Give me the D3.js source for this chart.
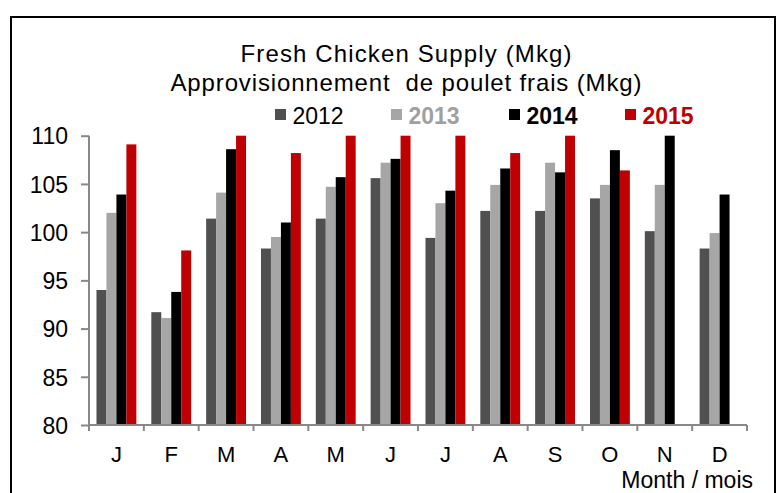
<!DOCTYPE html>
<html>
<head>
<meta charset="utf-8">
<script src="https://cdn.jsdelivr.net/npm/d3@7"></script>
<style>
  html, body { margin: 0; padding: 0; background: #fff; }
  svg { display: block; font-family: "Liberation Sans", Arial, sans-serif; }
</style>
</head>
<body>
<svg id="chart" width="778" height="493"></svg>
<script>
const months = ["J", "F", "M", "A", "M", "J", "J", "A", "S", "O", "N", "D"];
const years = ["2012", "2013", "2014", "2015"];
const v2012 = [94.0, 91.7, 101.4, 98.3, 101.4, 105.6, 99.4, 102.2, 102.2, 103.5, 100.1, 98.3];
const v2013 = [102.0, 91.1, 104.1, 99.5, 104.7, 107.2, 103.0, 104.9, 107.2, 104.9, 104.9, 99.9];
const v2014 = [103.9, 93.8, 108.6, 101.0, 105.7, 107.6, 104.3, 106.6, 106.2, 108.5, 110.0, 103.9];
const v2015 = [109.1, 98.1, 110.0, 108.2, 110.0, 110.0, 110.0, 108.2, 110.0, 106.4, null, null];
const yTicks = [80, 85, 90, 95, 100, 105, 110];
const titleLines = ["Fresh Chicken Supply (Mkg)", "Approvisionnement  de poulet frais (Mkg)"];
const xAxisTitle = "Month / mois";

const seriesValues = [v2012, v2013, v2014, v2015];
const colors = ["#505050", "#a6a6a6", "#000000", "#c00000"];
const legendTextColors = ["#000000", "#a0a0a0", "#000000", "#c00000"];
const legendWeights = ["normal", "bold", "bold", "bold"];

const svg = d3.select("#chart");

// outer border
svg.append("rect").attr("x", 11).attr("y", 17).attr("width", 764).attr("height", 520)
  .attr("fill", "none").attr("stroke", "#000").attr("stroke-width", 2);

const pLeft = 89, pRight = 747, pTop = 135.7, pBottom = 425;
const x0 = d3.scaleBand().domain(d3.range(months.length)).range([pLeft, pRight]).paddingInner(0).paddingOuter(0);
const bw = x0.bandwidth() / (years.length + 1.5);
const x1 = d3.scaleBand().domain(years).range([0, bw * years.length]);
const groupOffset = (x0.bandwidth() - bw * years.length) / 2;
const y = d3.scaleLinear().domain([80, 110]).range([pBottom, pTop]);

// bars
years.forEach((yr, si) => {
  svg.append("g").selectAll("rect")
    .data(seriesValues[si].map((v, i) => ({ v, i })).filter(d => d.v != null))
    .join("rect")
    .attr("x", d => x0(d.i) + groupOffset + x1(yr))
    .attr("y", d => y(Math.min(d.v, 110)))
    .attr("width", x1.bandwidth())
    .attr("height", d => y(80) - y(Math.min(d.v, 110)))
    .attr("fill", colors[si]);
});

const axisColor = "#888888";
// y axis
const yAxis = svg.append("g").attr("transform", `translate(${pLeft},0)`)
  .call(d3.axisLeft(y).tickValues(yTicks).tickSize(8).tickPadding(13));
yAxis.select(".domain").attr("stroke", axisColor).attr("stroke-width", 2).attr("d", `M0,${pBottom}V${pTop}`);
yAxis.selectAll(".tick line").attr("stroke", axisColor).attr("stroke-width", 2);
yAxis.selectAll(".tick text").attr("font-size", 23).attr("fill", "#000")
  .attr("font-family", "'Liberation Sans', Arial, sans-serif").attr("dy", "0.36em");

// x axis
const xBoundaries = d3.range(months.length + 1).map(i => pLeft + i * x0.bandwidth());
const xg = svg.append("g");
xg.append("line").attr("x1", pLeft).attr("x2", pRight).attr("y1", pBottom).attr("y2", pBottom)
  .attr("stroke", axisColor).attr("stroke-width", 2);
xg.selectAll("line.tk").data(xBoundaries).join("line").attr("class", "tk")
  .attr("x1", d => d).attr("x2", d => d).attr("y1", pBottom).attr("y2", pBottom + 6)
  .attr("stroke", axisColor).attr("stroke-width", 2);
xg.selectAll("text").data(months).join("text")
  .attr("x", (d, i) => x0(i) + x0.bandwidth() / 2)
  .attr("y", 461.5)
  .attr("text-anchor", "middle").attr("font-size", 22).attr("fill", "#000")
  .text(d => d);

svg.append("text").attr("x", 753).attr("y", 488).attr("text-anchor", "end")
  .attr("font-size", 23).attr("fill", "#000").text(xAxisTitle);

// title
const titleY = [62.3, 90.7];
const titleW = [331, 471];
titleLines.forEach((t, i) => {
  svg.append("text").attr("x", 406).attr("y", titleY[i]).attr("text-anchor", "middle")
    .attr("font-size", 24).attr("fill", "#000").style("white-space", "pre")
    .attr("textLength", titleW[i]).attr("lengthAdjust", "spacing").text(t);
});

// legend
const legendSq = [275, 391, 509, 625];
years.forEach((yr, i) => {
  svg.append("rect").attr("x", legendSq[i]).attr("y", 109).attr("width", 11).attr("height", 11).attr("fill", colors[i]);
  svg.append("text").attr("x", legendSq[i] + 17.5).attr("y", 124)
    .attr("font-size", 23).attr("font-weight", legendWeights[i]).attr("fill", legendTextColors[i]).text(yr);
});
</script>
</body>
</html>
